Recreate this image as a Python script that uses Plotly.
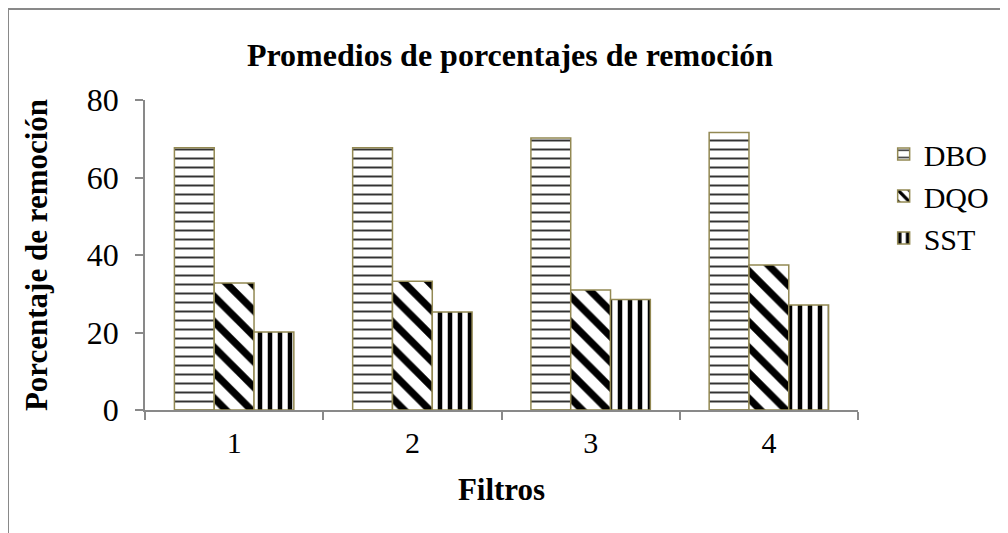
import plotly.graph_objects as go

categories = ["1", "2", "3", "4"]
dbo = [67.7, 67.7, 70.2, 71.6]
dqo = [32.8, 33.2, 31.0, 37.4]
sst = [20.1, 25.3, 28.5, 27.1]
y_ticks = [0, 20, 40, 60, 80]

FONT = "Liberation Serif"
OUTLINE = "#938953"

fig = go.Figure()
fig.add_trace(go.Bar(
    name="DBO", x=categories, y=dbo,
    marker=dict(color="white", line=dict(color=OUTLINE, width=1.5),
                pattern=dict(shape="-", fgcolor="#333333", bgcolor="white", fgopacity=1,
                             size=9, solidity=0.22)),
))
fig.add_trace(go.Bar(
    name="DQO", x=categories, y=dqo,
    marker=dict(color="white", line=dict(color=OUTLINE, width=1.5),
                pattern=dict(shape="\\", fgcolor="black", bgcolor="white", fgopacity=1,
                             size=18, solidity=0.4)),
))
fig.add_trace(go.Bar(
    name="SST", x=categories, y=sst,
    marker=dict(color="white", line=dict(color=OUTLINE, width=1.5),
                pattern=dict(shape="|", fgcolor="black", bgcolor="white", fgopacity=1,
                             size=10, solidity=0.45)),
))

# page body has an 8px margin, so the figure is 1000x525 and offset accordingly
W, H = 1000, 525
L, T = 137, 92
PW, PH = 713, 310

fig.update_layout(
    width=W, height=H,
    margin=dict(l=L, r=W - L - PW, t=T, b=H - T - PH, autoexpand=False),
    paper_bgcolor="white", plot_bgcolor="white",
    barmode="group", bargap=0.33, bargroupgap=0,
    font=dict(family=FONT, color="black"),
    title=dict(text="<b>Promedios de porcentajes de remoción</b>", x=0.502, xanchor="center",
               y=0.9105, yanchor="middle", font=dict(size=32, family=FONT, color="black"),
               automargin=False),
    xaxis=dict(
        title=dict(text="<b>Filtros</b>", font=dict(size=31, family=FONT), standoff=21),
        showline=True, linecolor="#898989", linewidth=1.5,
        ticks="outside", tickson="boundaries", ticklen=8, tickcolor="#898989", tickwidth=1.5,
        ticklabelstandoff=5,
        tickfont=dict(size=30, family=FONT), showgrid=False, automargin=False,
    ),
    yaxis=dict(
        title=dict(text="<b>Porcentaje de remoción</b>", font=dict(size=31, family=FONT), standoff=30),
        range=[0, 80], tickvals=y_ticks,
        showline=True, linecolor="#898989", linewidth=1.5,
        ticks="outside", ticklen=8, tickcolor="#898989", tickwidth=1.5, ticklabelstandoff=10,
        tickfont=dict(size=32, family=FONT), showgrid=False, zeroline=False, automargin=False,
    ),
    legend=dict(x=1.036, y=0.91, xanchor="left", yanchor="top",
                font=dict(size=30, family=FONT), tracegroupgap=0, itemwidth=30),
    shapes=[dict(type="rect", xref="paper", yref="paper",
                 x0=(0 - L) / PW, x1=(W + 20 - L) / PW,
                 y0=-(H + 20 - T - PH) / PH, y1=(T + PH - 1) / PH,
                 line=dict(color="#898989", width=2), fillcolor="rgba(0,0,0,0)", layer="below")],
)

fig.write_html("out.html")
